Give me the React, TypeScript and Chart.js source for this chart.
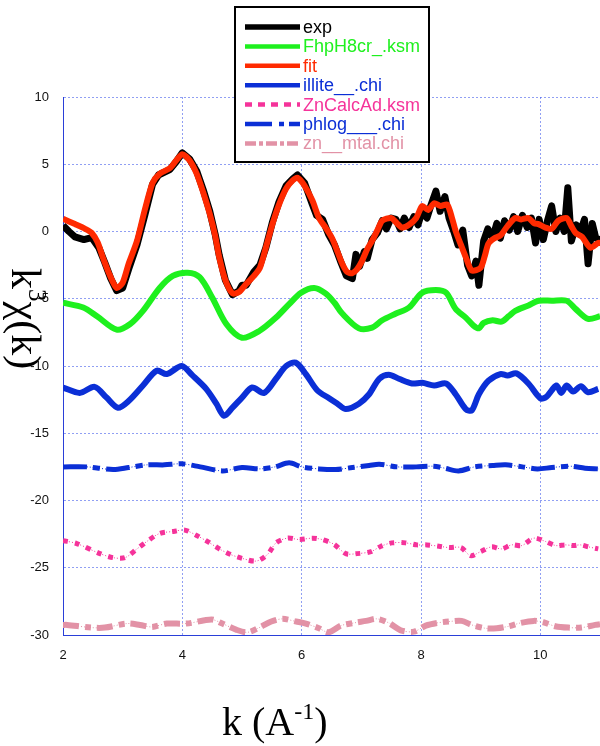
import React, { useEffect, useRef } from "react";
import { Chart, registerables } from "chart.js";
Chart.register(...registerables);

type P = [number, number];

const X_TICKS = [2, 4, 6, 8, 10];
const X_MIN = 2;
const X_MAX = 11;
const Y_MIN = -30;
const Y_MAX = 10;
const Y_STEP = 5;

const LABELS = ["exp", "FhpH8cr_.ksm", "fit", "illite__.chi", "ZnCalcAd.ksm", "phlog___.chi", "zn__mtal.chi"];

const EXP: P[] = [
  [2.0, 0.45], [2.1, 0.0], [2.2, -0.4], [2.35, -0.6], [2.48, -0.45], [2.6, -1.2], [2.7, -2.3], [2.8, -3.5],
  [2.9, -4.4], [3.0, -4.2], [3.1, -2.8], [3.24, -1.0], [3.37, 1.2], [3.5, 3.5], [3.6, 4.2], [3.79, 4.6],
  [3.9, 5.2], [4.0, 5.85], [4.12, 5.4], [4.24, 4.5], [4.35, 3.1], [4.46, 1.5], [4.55, -0.2], [4.62, -1.8],
  [4.72, -3.6], [4.84, -4.7], [4.95, -4.4], [5.0, -4.0], [5.07, -4.0], [5.2, -3.0], [5.3, -2.5], [5.4, -1.2],
  [5.51, 0.7], [5.62, 2.2], [5.74, 3.4], [5.85, 3.9], [5.93, 4.2], [6.05, 3.6], [6.18, 2.0], [6.25, 1.2],
  [6.35, 0.9], [6.45, -0.2], [6.55, -1.0], [6.65, -2.2], [6.75, -3.3], [6.85, -3.5], [6.91, -1.7], [6.97, -2.6],
  [7.05, -1.5], [7.1, -2.0], [7.18, -0.6], [7.27, -0.1], [7.35, 0.8], [7.42, 0.2], [7.5, 1.0], [7.58, 0.9],
  [7.65, 0.2], [7.72, 1.0], [7.8, 0.3], [7.88, 1.1], [7.95, 0.5], [8.02, 1.5], [8.1, 1.0], [8.17, 2.0],
  [8.25, 3.0], [8.32, 1.5], [8.4, 2.6], [8.47, 1.0], [8.55, 0.0], [8.62, -1.0], [8.7, 0.1], [8.78, -2.5],
  [8.85, -3.3], [8.92, -2.2], [8.97, -4.0], [9.05, -0.7], [9.12, 0.2], [9.2, -0.5], [9.27, 0.6], [9.33, -0.5],
  [9.4, 0.8], [9.48, 0.1], [9.55, 1.1], [9.62, 0.0], [9.7, 1.2], [9.78, 0.3], [9.85, 1.0], [9.92, -0.85],
  [9.98, 0.9], [10.05, -0.6], [10.12, 0.8], [10.19, 1.9], [10.26, 0.0], [10.33, 1.0], [10.4, 0.0], [10.46, 3.25],
  [10.52, -0.7], [10.6, 0.5], [10.68, 0.1], [10.74, 0.9], [10.8, -2.4], [10.87, 0.6], [10.93, -0.5], [11.0, -0.6],
];

const FIT: P[] = [
  [2.0, 0.95], [2.2, 0.55], [2.37, 0.2], [2.48, -0.1], [2.58, -0.8], [2.67, -1.95], [2.78, -3.2], [2.9, -4.2],
  [3.0, -3.8], [3.1, -2.4], [3.24, -0.7], [3.37, 1.6], [3.5, 3.6], [3.62, 4.3], [3.79, 4.7], [3.9, 5.3],
  [4.0, 5.75], [4.12, 5.3], [4.24, 4.3], [4.35, 2.9], [4.46, 1.3], [4.55, -0.3], [4.62, -1.95], [4.72, -3.6],
  [4.84, -4.6], [4.95, -4.5], [5.07, -3.9], [5.2, -3.3], [5.3, -2.7], [5.4, -1.2], [5.51, 0.55], [5.62, 2.0],
  [5.74, 3.2], [5.85, 3.8], [5.93, 4.0], [6.05, 3.4], [6.18, 2.3], [6.29, 1.0], [6.4, 0.3], [6.51, -0.5],
  [6.6, -1.5], [6.68, -2.4], [6.76, -3.0], [6.85, -3.1], [6.93, -2.8], [7.01, -2.2], [7.1, -1.3], [7.18, -0.7],
  [7.27, 0.1], [7.35, 0.8], [7.5, 1.0], [7.6, 0.6], [7.68, 0.3], [7.8, 0.5], [7.92, 1.0], [8.02, 1.9],
  [8.12, 1.6], [8.22, 2.1], [8.33, 1.9], [8.44, 2.0], [8.52, 1.0], [8.58, 0.05], [8.67, -1.0], [8.75, -1.9],
  [8.85, -2.9], [9.0, -2.7], [9.07, -1.8], [9.13, -0.9], [9.23, -0.5], [9.33, -0.3], [9.45, 0.4], [9.58, 1.0],
  [9.68, 0.9], [9.8, 1.0], [9.9, 0.6], [9.97, 0.55], [10.08, 0.3], [10.19, 0.2], [10.3, 0.8], [10.44, 1.0],
  [10.52, 0.4], [10.59, -0.1], [10.7, -0.4], [10.84, -1.2], [10.97, -0.85], [11.0, -0.85],
];

const FHP: P[] = [
  [2.0, -5.3], [2.34, -5.65], [2.57, -6.3], [2.9, -7.3], [3.12, -6.9], [3.34, -5.9], [3.62, -4.2], [3.84, -3.3],
  [4.09, -3.07], [4.29, -3.4], [4.5, -4.9], [4.74, -6.9], [5.0, -7.9], [5.29, -7.4], [5.57, -6.4], [5.79, -5.4],
  [5.99, -4.55], [6.21, -4.2], [6.4, -4.6], [6.55, -5.3], [6.68, -6.1], [6.96, -7.2], [7.18, -7.15], [7.35, -6.6],
  [7.58, -6.1], [7.8, -5.65], [8.02, -4.55], [8.25, -4.35], [8.42, -4.55], [8.58, -5.75], [8.75, -6.4], [8.88, -7.0],
  [8.97, -7.2], [9.05, -6.8], [9.2, -6.6], [9.35, -6.7], [9.47, -6.3], [9.58, -5.9], [9.8, -5.5], [9.97, -5.15],
  [10.19, -5.15], [10.44, -5.15], [10.59, -5.75], [10.8, -6.5], [11.0, -6.3],
];

const ILLITE: P[] = [
  [2.0, -11.6], [2.28, -12.0], [2.53, -11.55], [2.73, -12.35], [2.92, -13.1], [3.1, -12.6], [3.34, -11.45], [3.57, -10.35],
  [3.74, -10.6], [3.99, -10.0], [4.17, -10.7], [4.4, -11.7], [4.57, -12.8], [4.7, -13.7], [4.84, -13.1], [5.0, -12.35],
  [5.17, -11.6], [5.37, -12.0], [5.57, -10.95], [5.74, -10.0], [5.9, -9.75], [6.07, -10.6], [6.26, -11.8], [6.46, -12.4],
  [6.6, -12.8], [6.74, -13.2], [6.96, -12.8], [7.13, -12.1], [7.3, -10.95], [7.46, -10.65], [7.63, -10.95], [7.85, -11.3],
  [8.02, -11.25], [8.22, -11.45], [8.42, -11.3], [8.58, -12.1], [8.75, -13.2], [8.85, -13.3], [8.97, -12.1], [9.13, -11.1],
  [9.33, -10.6], [9.45, -10.7], [9.6, -10.55], [9.8, -11.3], [10.0, -12.4], [10.1, -12.3], [10.27, -11.45], [10.35, -12.0],
  [10.44, -11.45], [10.55, -11.9], [10.68, -11.5], [10.8, -11.95], [10.97, -11.7],
];

const ZNCALC: P[] = [
  [2.0, -22.98], [2.23, -23.2], [2.62, -23.95], [2.84, -24.25], [3.04, -24.25], [3.24, -23.6], [3.42, -23.0], [3.62, -22.45],
  [3.85, -22.3], [4.04, -22.2], [4.24, -22.6], [4.44, -23.1], [4.62, -23.6], [4.8, -24.0], [5.0, -24.3], [5.24, -24.5],
  [5.43, -24.0], [5.57, -23.15], [5.76, -22.8], [5.96, -22.9], [6.18, -22.8], [6.34, -22.9], [6.54, -23.25], [6.74, -23.95],
  [6.93, -23.95], [7.16, -23.8], [7.33, -23.4], [7.51, -23.15], [7.74, -23.15], [7.93, -23.3], [8.1, -23.3], [8.3, -23.4],
  [8.47, -23.5], [8.67, -23.5], [8.83, -24.1], [9.0, -23.8], [9.18, -23.45], [9.35, -23.6], [9.52, -23.3], [9.69, -23.35],
  [9.89, -22.8], [10.09, -23.05], [10.26, -23.35], [10.42, -23.3], [10.56, -23.35], [10.67, -23.3], [10.81, -23.45], [10.97, -23.6],
];

const PHLOG: P[] = [
  [2.0, -17.5], [2.4, -17.5], [2.84, -17.7], [3.1, -17.55], [3.4, -17.35], [3.7, -17.35], [3.99, -17.27], [4.3, -17.5],
  [4.67, -17.8], [5.0, -17.55], [5.29, -17.65], [5.55, -17.5], [5.79, -17.2], [6.0, -17.5], [6.29, -17.65], [6.57, -17.7],
  [6.85, -17.55], [7.13, -17.4], [7.3, -17.3], [7.6, -17.5], [7.92, -17.5], [8.2, -17.45], [8.4, -17.6], [8.63, -17.8],
  [8.9, -17.5], [9.2, -17.4], [9.42, -17.35], [9.7, -17.5], [9.95, -17.65], [10.19, -17.55], [10.5, -17.45], [10.75, -17.6],
  [10.97, -17.65],
];

const ZNMTAL: P[] = [
  [2.0, -29.25], [2.07, -29.25], [2.48, -29.45], [2.7, -29.45], [3.07, -29.15], [3.29, -29.25], [3.49, -29.4], [3.74, -29.15],
  [4.07, -29.15], [4.49, -28.85], [4.67, -29.15], [4.9, -29.6], [5.09, -29.8], [5.29, -29.45], [5.49, -29.0], [5.68, -28.8],
  [5.91, -29.0], [6.07, -29.15], [6.29, -29.5], [6.45, -29.8], [6.66, -29.3], [6.88, -29.1], [7.08, -28.95], [7.26, -28.8],
  [7.46, -29.1], [7.66, -29.65], [7.88, -29.75], [8.08, -29.3], [8.27, -29.1], [8.47, -29.0], [8.68, -28.95], [8.85, -29.25],
  [9.08, -29.5], [9.27, -29.5], [9.47, -29.35], [9.67, -29.1], [9.89, -28.95], [10.05, -29.05], [10.25, -29.35], [10.47, -29.45],
  [10.69, -29.45], [10.92, -29.25], [11.0, -29.2],
];

const SERIES_DATA: P[][] = [EXP, FHP, FIT, ILLITE, ZNCALC, PHLOG, ZNMTAL];

const STYLES = [
  { color: "#000000", width: 7, dash: [] as number[], legendDash: [] as number[], tension: 0, order: 2, dotted: false },
  { color: "#1ef01e", width: 6, dash: [], legendDash: [], tension: 0.3, order: 3, dotted: false },
  { color: "#ff2a00", width: 6, dash: [], legendDash: [], tension: 0.25, order: 1, dotted: false },
  { color: "#0b2fd6", width: 6, dash: [], legendDash: [], tension: 0.3, order: 3, dotted: false },
  { color: "#f5339a", width: 5, dash: [5, 7], legendDash: [7, 6], tension: 0.3, order: 3, dotted: true },
  { color: "#0b2fd6", width: 5, dash: [24, 6, 7, 6], legendDash: [27, 7, 5, 5], tension: 0.3, order: 3, dotted: true },
  { color: "#e292a6", width: 6, dash: [16, 6, 6, 6], legendDash: [11, 3, 4, 3], tension: 0.3, order: 3, dotted: true },
];

const SERIF = '"Liberation Serif", "Times New Roman", serif';
const SANS = '"Liberation Sans", Arial, sans-serif';
const GRID_COLOR = "rgba(70, 95, 235, 0.6)";
const AXIS_COLOR = "#2a3fd8";

type Part = { t: string; sup?: boolean };
function drawRich(ctx: CanvasRenderingContext2D, parts: Part[], size: number) {
  let x = 0;
  for (const p of parts) {
    const fs = p.sup ? Math.round(size * 0.6) : size;
    ctx.font = `${fs}px ${SERIF}`;
    ctx.fillText(p.t, x, p.sup ? -size * 0.4 : 0);
    x += ctx.measureText(p.t).width;
  }
}

const titlesPlugin = {
  id: "titles",
  afterDraw(chart: any) {
    const ctx: CanvasRenderingContext2D = chart.ctx;
    ctx.save();
    ctx.fillStyle = "#000";
    ctx.textBaseline = "alphabetic";
    ctx.textAlign = "left";
    ctx.save();
    ctx.translate(222, 735);
    drawRich(ctx, [{ t: "k (A" }, { t: "-1", sup: true }, { t: ")" }], 40);
    ctx.restore();
    ctx.save();
    ctx.translate(12, 268);
    ctx.rotate(Math.PI / 2);
    drawRich(ctx, [{ t: "k" }, { t: "3", sup: true }, { t: "χ(k)" }], 42);
    ctx.restore();
    ctx.restore();
  },
};

const legendPlugin = {
  id: "boxLegend",
  afterDraw(chart: any) {
    const ctx: CanvasRenderingContext2D = chart.ctx;
    ctx.save();
    const x0 = 235, y0 = 7, w = 194, h = 155;
    ctx.fillStyle = "#fff";
    ctx.fillRect(x0, y0, w, h);
    ctx.lineWidth = 2;
    ctx.strokeStyle = "#000";
    ctx.setLineDash([]);
    ctx.strokeRect(x0, y0, w, h);
    LABELS.forEach((label, i) => {
      const st = STYLES[i];
      const y = 27 + i * 19.4;
      ctx.beginPath();
      ctx.setLineDash(st.legendDash);
      ctx.lineWidth = i === 0 ? 5.5 : 4.5;
      ctx.lineCap = "butt";
      ctx.strokeStyle = st.color;
      ctx.moveTo(245, y);
      ctx.lineTo(300, y);
      ctx.stroke();
      ctx.setLineDash([]);
      ctx.fillStyle = st.color;
      ctx.font = `18px ${SANS}`;
      ctx.textBaseline = "middle";
      ctx.textAlign = "left";
      ctx.fillText(label, 303, y + 1);
    });
    ctx.restore();
  },
};

export default function App() {
  const ref = useRef<HTMLCanvasElement>(null);
  useEffect(() => {
    if (!ref.current) return;
    const datasets: any[] = [];
    SERIES_DATA.forEach((pts, i) => {
      const st = STYLES[i];
      const data = pts.map(([x, y]) => ({ x, y }));
      datasets.push({
        label: LABELS[i],
        data,
        borderColor: st.color,
        backgroundColor: st.color,
        borderWidth: st.width,
        borderDash: st.dash,
        borderCapStyle: "butt",
        borderJoinStyle: "round",
        tension: st.tension,
        pointRadius: 0,
        fill: false,
        order: st.order,
      });
      if (st.dotted) {
        datasets.push({
          label: LABELS[i] + " ",
          data,
          borderColor: st.color,
          borderWidth: 1,
          borderDash: [1, 2],
          tension: st.tension,
          pointRadius: 0,
          fill: false,
          order: st.order + 1,
        });
      }
    });

    const tickFont = { family: SANS, size: 13 };
    const chart = new Chart(ref.current, {
      type: "line",
      data: { datasets },
      options: {
        animation: false,
        responsive: false,
        events: [],
        layout: { padding: { top: 97, left: 0, right: 0, bottom: 0 } },
        plugins: { legend: { display: false }, tooltip: { enabled: false } },
        scales: {
          x: {
            type: "linear",
            min: X_MIN,
            max: X_MAX,
            afterBuildTicks: (s: any) => {
              s.ticks = X_TICKS.map((value) => ({ value }));
            },
            afterFit: (s: any) => {
              s.height = 111;
            },
            grid: { color: GRID_COLOR, lineWidth: 1, drawTicks: false },
            border: { display: true, color: AXIS_COLOR, width: 1, dash: [2, 2] },
            ticks: { padding: 13, font: tickFont, color: "#111", maxRotation: 0, autoSkip: false, callback: (v: any) => String(v) },
          },
          y: {
            type: "linear",
            min: Y_MIN,
            max: Y_MAX,
            afterFit: (s: any) => {
              s.width = 63;
            },
            grid: { color: GRID_COLOR, lineWidth: 1, drawTicks: false },
            border: { display: true, color: AXIS_COLOR, width: 1, dash: [2, 2] },
            ticks: { stepSize: Y_STEP, padding: 14, font: tickFont, color: "#111", callback: (v: any) => String(v) },
          },
        },
      } as any,
      plugins: [titlesPlugin, legendPlugin],
    });
    return () => chart.destroy();
  }, []);
  return (
    <div style={{ position: "absolute", left: 0, top: 0, width: 600, height: 746, background: "#fff" }}>
      <canvas ref={ref} width={600} height={746} style={{ display: "block" }} />
    </div>
  );
}
